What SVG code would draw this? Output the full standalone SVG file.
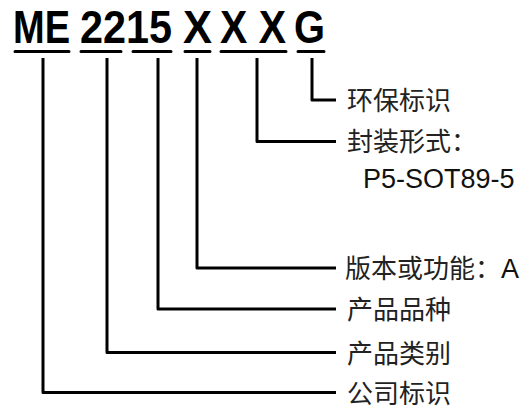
<svg xmlns="http://www.w3.org/2000/svg" width="526" height="413" viewBox="0 0 526 413">
<style>
.t{font-family:"Liberation Sans",Arial,sans-serif;font-weight:bold;font-size:46px;fill:#000}
.c{font-family:"Noto Sans CJK SC","Liberation Sans",sans-serif;font-size:26px;fill:#222}
.p{font-family:"Liberation Sans",Arial,sans-serif;font-size:27px;fill:#111}
.u{stroke:#000;stroke-width:3;stroke-linecap:round;fill:none}
.l{stroke:#000;stroke-width:3;fill:none;stroke-linejoin:round}
</style>
<rect width="526" height="413" fill="#fff"/>
<g id="title">
<text class="t" x="13" y="43" textLength="57" lengthAdjust="spacingAndGlyphs">ME</text>
<text class="t" x="80" y="43" textLength="92" lengthAdjust="spacingAndGlyphs">2215</text>
<text class="t" x="183" y="43" textLength="29" lengthAdjust="spacingAndGlyphs">X</text>
<text class="t" x="220" y="43" textLength="66" lengthAdjust="spacingAndGlyphs">X X</text>
<text class="t" x="294" y="43" textLength="31" lengthAdjust="spacingAndGlyphs">G</text>
<path class="u" d="M15 51.5H69M81 51.5H121M133 51.5H171M185 51.5H210M221 51.5H286M298 51.5H324"/>
</g>
<g id="connectors">
<path class="l" d="M312 58V100H336"/>
<path class="l" d="M257 58V141.5H336"/>
<path class="l" d="M197 58V268H336"/>
<path class="l" d="M158 58V309H336"/>
<path class="l" d="M107 58V352.5H336"/>
<path class="l" d="M43 58V392.5H336"/>
</g>
<g id="n-env"><text class="c" x="347" y="110">环保标识</text></g>
<g id="n-pkg"><text class="c" x="347" y="151">封装形式：</text><text class="p" x="363" y="188">P5-SOT89-5</text></g>
<g id="n-ver"><text class="c" x="345" y="278">版本或功能：<tspan class="p" style="font-size:27px">A</tspan></text></g>
<g id="n-var"><text class="c" x="347" y="319">产品品种</text></g>
<g id="n-cat"><text class="c" x="347" y="362.5">产品类别</text></g>
<g id="n-co"><text class="c" x="347" y="402.5">公司标识</text></g>
</svg>
